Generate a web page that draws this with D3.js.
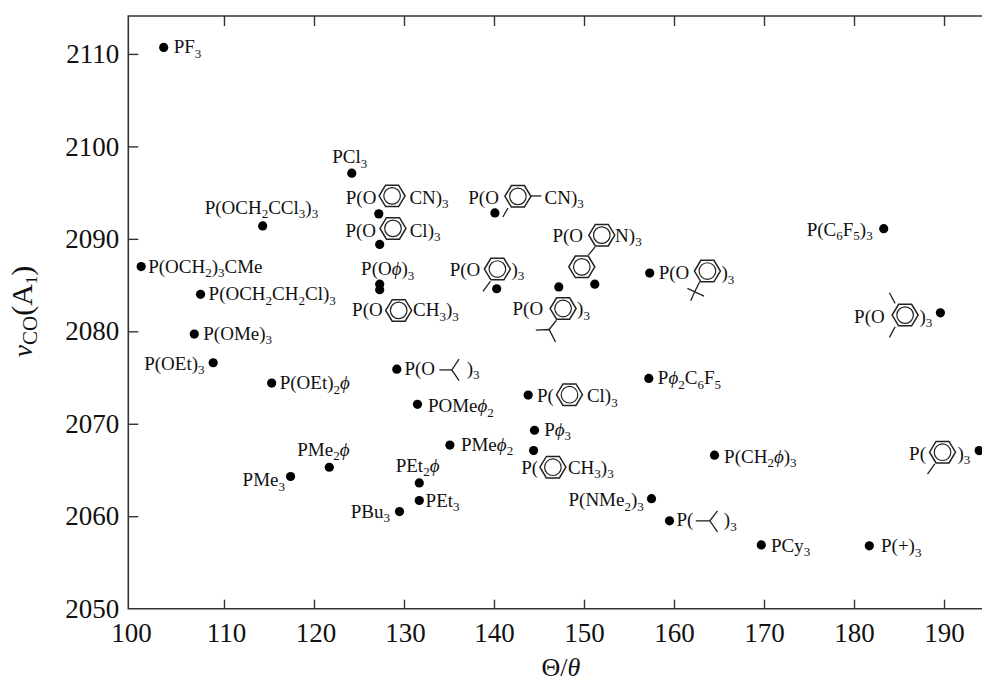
<!DOCTYPE html>
<html lang="en">
<head>
  <meta charset="UTF-8">
  <title>Tolman electronic and steric parameters</title>
  <style>
    html, body { margin: 0; padding: 0; background: #fff; }
    svg { display: block; }
    text { font-family: "Liberation Serif", "Times New Roman", serif; fill: #111; }
    .lab { font-size: 19px; }
  </style>
  <script src="https://d3js.org/d3.v7.min.js"></script>
</head>
<body>
  <svg width="982" height="682"></svg>

  <script>
    // values
    var names = [
      "PF3", "PCl3", "pCN", "mCN", "pCl", "POPh", "pTolO", "oTolO", "biPy", "iPrO", "tBuO",
      "C6F5", "mesO", "OCH2CCl3", "cage", "OCH2CH2Cl", "OMe", "OEt", "OEt2Ph", "OiPr", "POMePh2",
      "PpCl", "PPh3", "PpTol", "PMePh2", "PEt2Ph", "PEt3", "PBu3", "NMe2", "PMe2Ph", "PMe3",
      "PPh2C6F5", "Bn", "PiPr", "PCy3", "PtBu", "PoTol"
    ];
    var thetaVals = [
      103.3, 124.2, 127.2, 140.1, 127.3, 127.3, 127.3, 140.3, 151.2, 147.2, 157.3,
      183.3, 189.6, 114.3, 100.8, 107.4, 106.7, 108.8, 115.3, 129.2, 131.5,
      143.8, 144.5, 144.4, 135.1, 131.7, 131.7, 129.5, 157.5, 121.7, 117.4,
      157.2, 164.5, 159.5, 169.7, 181.7, 193.9
    ];
    var nuVals = [
      2110.7, 2097.1, 2092.7, 2092.8, 2089.4, 2085.1, 2084.5, 2084.6, 2085.1, 2084.8, 2086.3,
      2091.1, 2082.0, 2091.4, 2087.0, 2084.0, 2079.7, 2076.6, 2074.4, 2075.9, 2072.1,
      2073.1, 2069.3, 2067.1, 2067.7, 2063.6, 2061.7, 2060.5, 2061.9, 2065.3, 2064.3,
      2074.9, 2066.6, 2059.5, 2056.9, 2056.8, 2067.1
    ];
    var xTicks = [100, 110, 120, 130, 140, 150, 160, 170, 180, 190];
    var yTicks = [2050, 2060, 2070, 2080, 2090, 2100, 2110];

    // label pieces relative to the dot: t = text, r = benzene rings, b = bond polylines
    var labelLayout = {
      PF3: { t: [["PF_3", 10, 6]] },
      PCl3: { t: [["PCl_3", -19.5, -10]] },
      pCN: { t: [["P(O", -33, -10], ["CN)_3", 30.6, -10]], r: [[13.3, -18]] },
      mCN: { t: [["P(O", -26.6, -9.3], ["CN)_3", 49.7, -9.3]], r: [[23, -16.6]],
             b: [[[35.4, -17], [46.4, -17]], [[13, -5], [8, 4]]] },
      pCl: { t: [["P(O", -34.3, -7.6], ["Cl)_3", 30, -7.6]], r: [[13.3, -16]] },
      POPh: { t: [["P(Oϕ)_3", -18.6, -9]] },
      pTolO: { t: [["P(O", -27.6, 26.7], ["CH_3)_3", 33.4, 26.7]], r: [[19, 20.7]] },
      oTolO: { t: [["P(O", -47, -13], [")_3", 14.7, -13]], r: [[0.7, -19.7]],
               b: [[[-6.3, -7.3], [-13.7, 2.7]]] },
      biPy: { t: [["P(O", -42.4, -42.3], ["N)_3", 20.3, -42.3]], r: [[7, -49], [-13, -17.3]],
              b: [[[0.3, -37.3], [-6.4, -29]]] },
      iPrO: { t: [["P(O", -46.3, 28.3], [")_3", 18.3, 28.3]], r: [[4.3, 21.6]],
              b: [[[-2.3, 33.3], [-9.7, 42.6]], [[-23, 43.3], [-9.7, 42.6], [-3.3, 55]]] },
      tBuO: { t: [["P(O", 9, 6.3], [")_3", 71.7, 6.3]], r: [[57.7, -2]],
              b: [[[50, 8.7], [45, 18.7], [41, 27.7]], [[37.7, 15.3], [54.3, 23]]] },
      C6F5: { t: [["P(C_6F_5)_3", -77, 7]] },
      mesO: { t: [["P(O", -86.3, 10], [")_3", -21, 10]], r: [[-35.3, 2.3]],
              b: [[[-45.3, -9.4], [-51, -20]], [[-45.3, 14], [-51, 24.6]]] },
      OCH2CCl3: { t: [["P(OCH_2CCl_3)_3", -58, -12]] },
      cage: { t: [["P(OCH_2)_3CMe", 7, 6]] },
      OCH2CH2Cl: { t: [["P(OCH_2CH_2Cl)_3", 8, 6]] },
      OMe: { t: [["P(OMe)_3", 9, 5.5]] },
      OEt: { t: [["P(OEt)_3", -69, 7]] },
      OEt2Ph: { t: [["P(OEt)_2ϕ", 8, 6]] },
      OiPr: { t: [["P(O", 7.6, 5.7], [")_3", 70, 5.7]],
              b: [[[42.6, 0.7], [55, 0.7]], [[62.3, -10], [55, 0.7], [62.3, 11.4]]] },
      POMePh2: { t: [["POMeϕ_2", 10.4, 7.7]] },
      PpCl: { t: [["P(", 8.7, 7], ["Cl)_3", 58.7, 7]], r: [[41.3, -0.4]] },
      PPh3: { t: [["Pϕ_3", 9.7, 5.7]] },
      PpTol: { t: [["P(", -12.3, 23.3], ["CH_3)_3", 34.3, 23.3]], r: [[19.3, 16.6]] },
      PMePh2: { t: [["PMeϕ_2", 11, 5.7]] },
      PEt2Ph: { t: [["PEt_2ϕ", -23.6, -11.3]] },
      PEt3: { t: [["PEt_3", 6.3, 6]] },
      PBu3: { t: [["PBu_3", -48.7, 6]] },
      NMe2: { t: [["P(NMe_2)_3", -83, 7.7]] },
      PMe2Ph: { t: [["PMe_2ϕ", -32, -11.5]] },
      PMe3: { t: [["PMe_3", -48, 10]] },
      PPh2C6F5: { t: [["Pϕ_2C_6F_5", 9, 6]] },
      Bn: { t: [["P(CH_2ϕ)_3", 9.6, 7.4]] },
      PiPr: { t: [["P(", 7, 5.3], [")_3", 54.3, 5.3]],
              b: [[[26.3, 0], [40.3, 0]], [[48, -10], [40.3, 0], [48, 11]]] },
      PCy3: { t: [["PCy_3", 9.7, 6.7]] },
      PtBu: { t: [["P(+)_3", 11.7, 6.2]] },
      PoTol: { t: [["P(", -70, 9.3], [")_3", -21.6, 9.3]], r: [[-36.6, 1.6]],
               b: [[[-44.3, 13.3], [-51.6, 23.6]]] }
    };

    var svg = d3.select("svg");

    // the frame is cut at the right edge of the picture, so there is no right spine
    var x = d3.scaleLinear().domain([99.37, 194.22]).range([128.3, 982]);
    var y = d3.scaleLinear().domain([2050, 2114.1]).range([608.7, 16]);

    function styleAxis(g) {
      g.select(".domain").remove();
      g.selectAll("line").attr("stroke", "#333").attr("stroke-width", 1.4);
      g.selectAll("text").attr("fill", "#111").style("font-size", "27px");
    }

    var bottomAxis = svg.append("g")
      .attr("transform", "translate(0," + y(2050) + ")")
      .call(d3.axisBottom(x).tickValues(xTicks).tickSize(-9).tickPadding(14).tickFormat(d3.format("d")))
      .call(styleAxis);
    bottomAxis.selectAll(".tick").filter(function(d) { return d === 100; }).select("line").remove();
    // the printed labels sit a little off their ticks on the left
    bottomAxis.selectAll(".tick text").attr("dx", function(d) {
      return d === 100 ? -3 : d === 110 ? 2 : d === 120 ? 1.5 : d === 130 ? 1 : 0;
    });

    var topAxis = svg.append("g")
      .attr("transform", "translate(0," + y.range()[1] + ")")
      .call(d3.axisTop(x).tickValues(xTicks).tickSize(-10).tickFormat(""))
      .call(styleAxis);
    topAxis.selectAll(".tick").filter(function(d) { return d === 100; }).remove();

    var leftAxis = svg.append("g")
      .attr("transform", "translate(" + x.range()[0] + ",0)")
      .call(d3.axisLeft(y).tickValues(yTicks).tickSize(-10).tickPadding(9).tickFormat(d3.format("d")))
      .call(styleAxis);
    leftAxis.selectAll(".tick").filter(function(d) { return d === 2050; }).select("line").remove();

    // spines
    svg.append("path")
      .attr("d", "M982," + y.range()[1] + "H" + x.range()[0] + "V" + y(2050) + "H982")
      .attr("fill", "none")
      .attr("stroke", "#333")
      .attr("stroke-width", 1.6);

    // writes "CH_3" style strings with subscripts and an italic phi
    function addRich(sel, str, subSize, subDrop) {
      var parts = str.match(/_\d|ϕ|[^_ϕ]+/g);
      var pending = 0;
      parts.forEach(function(p) {
        var isSub = p[0] === "_";
        var ts = sel.append("tspan").text(isSub ? p.slice(1) : p);
        var dy = (isSub ? subDrop : 0) - pending;
        if (dy) ts.attr("dy", dy);
        pending = isSub ? subDrop : 0;
        if (isSub) ts.style("font-size", subSize + "px");
        if (p === "ϕ") ts.style("font-style", "italic");
      });
    }

    var ringPath = d3.line().curve(d3.curveLinearClosed);
    var hexagon = d3.range(6).map(function(i) {
      var a = i * Math.PI / 3;
      return [13 * Math.cos(a), 12.4 * Math.sin(a)];
    });
    var bondPath = d3.line();

    var marks = svg.append("g").selectAll("g")
      .data(names)
      .join("g")
      .attr("transform", function(d, i) { return "translate(" + x(thetaVals[i]) + "," + y(nuVals[i]) + ")"; });

    marks.append("circle").attr("r", 4.6).attr("fill", "#000");

    marks.each(function(name) {
      var g = d3.select(this);
      var spec = labelLayout[name];
      spec.t.forEach(function(piece) {
        var t = g.append("text").attr("class", "lab").attr("x", piece[1]).attr("y", piece[2]);
        addRich(t, piece[0], 13, 4.5);
      });
      (spec.r || []).forEach(function(c) {
        var ring = g.append("g").attr("transform", "translate(" + c[0] + "," + c[1] + ")");
        ring.append("path").attr("d", ringPath(hexagon))
          .attr("fill", "none").attr("stroke", "#222").attr("stroke-width", 1.5);
        ring.append("circle").attr("r", 8.3)
          .attr("fill", "none").attr("stroke", "#222").attr("stroke-width", 1.2);
      });
      (spec.b || []).forEach(function(line) {
        g.append("path").attr("d", bondPath(line))
          .attr("fill", "none").attr("stroke", "#222").attr("stroke-width", 1.3);
      });
    });

    // axis titles
    var xTitle = svg.append("text").attr("x", 541.5).attr("y", 676).style("font-size", "26px");
    xTitle.append("tspan").text("Θ/");
    xTitle.append("tspan").text("θ").style("font-style", "italic");

    var yTitle = svg.append("text")
      .attr("transform", "translate(32,357) rotate(-90)")
      .style("font-size", "30px");
    yTitle.append("tspan").text("ν").style("font-style", "italic").style("font-size", "27px");
    yTitle.append("tspan").text("CO").attr("dy", 5).style("font-size", "21px");
    yTitle.append("tspan").text("(A").attr("dy", -5);
    yTitle.append("tspan").text("1").attr("dy", 5).style("font-size", "17px");
    yTitle.append("tspan").text(")").attr("dy", -5);
  </script>
</body>
</html>
